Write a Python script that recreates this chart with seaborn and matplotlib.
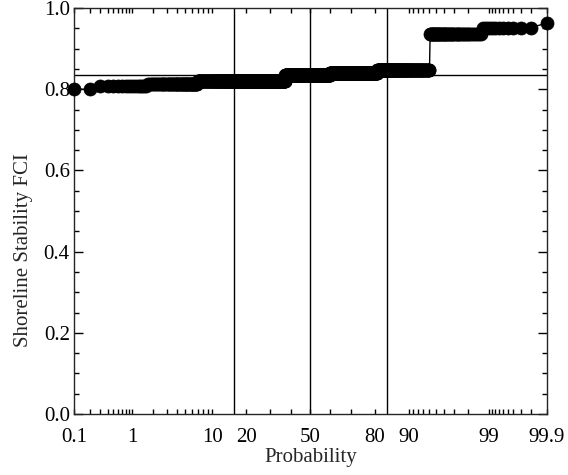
import numpy as np
import pandas as pd
import matplotlib.pyplot as plt
import seaborn as sns
from matplotlib.ticker import MultipleLocator
from statistics import NormalDist

# FCI values: step levels and how many sorted samples sit on each
fci_levels = [0.800, 0.807, 0.8125, 0.820, 0.835, 0.840, 0.847, 0.935, 0.952, 0.963]
level_counts = [2, 14, 53, 301, 230, 208, 132, 47, 11, 1]
mean_fci = 0.835
sigma_probs = [15.87, 50.0, 84.13]  # mean and +/- 1 sigma

major_probs = [0.1, 1, 10, 20, 50, 80, 90, 99, 99.9]
major_labels = ['0.1', '1', '10', '20', '50', '80', '90', '99', '99.9']
minor_probs = [0.2, 0.3, 0.4, 0.5, 0.6, 0.7, 0.8, 0.9,
               2, 3, 4, 5, 6, 7, 8, 9, 30, 40, 60, 70,
               91, 92, 93, 94, 95, 96, 97, 98,
               99.1, 99.2, 99.3, 99.4, 99.5, 99.6, 99.7, 99.8]
y_ticks = [0.0, 0.2, 0.4, 0.6, 0.8, 1.0]
y_labels = ['0.0', '0.2', '0.4', '0.6', '0.8', '1.0']

# sorted sample + plotting positions
fci = np.repeat(fci_levels, level_counts)
n = len(fci)
prob = 100 * np.arange(1, n + 1) / (n + 1)
df = pd.DataFrame({'Probability': prob, 'FCI': fci})

# normal probability scale
_nd = NormalDist()


def to_z(p):
    p = np.clip(np.asarray(p, dtype=float), 1e-4, 100 - 1e-4) / 100
    return np.vectorize(_nd.inv_cdf, otypes=[float])(p)


def from_z(z):
    z = np.asarray(z, dtype=float)
    return 100 * np.vectorize(_nd.cdf, otypes=[float])(z)


sns.set_style('ticks')
plt.rcParams['font.family'] = ['Liberation Serif', 'DejaVu Serif']
plt.rcParams['font.size'] = 15
plt.rcParams['axes.linewidth'] = 1.0

fig, ax = plt.subplots(figsize=(5.68, 4.75), dpi=100)
fig.subplots_adjust(left=0.1303, right=0.963, bottom=0.1284, top=0.983)
ax.set_xscale('function', functions=(to_z, from_z))

sns.lineplot(data=df, x='Probability', y='FCI', ax=ax, color='black',
             marker='o', markersize=9.4, markeredgecolor='black',
             markeredgewidth=0.5, linewidth=1, estimator=None, sort=False,
             clip_on=False, zorder=3)

for p in sigma_probs:
    ax.axvline(p, color='black', lw=1.0, zorder=2)
ax.axhline(mean_fci, color='black', lw=1.0, zorder=2)

ax.set_xlim(0.1, 99.9)
ax.set_ylim(0, 1)
ax.set_xticks(major_probs)
ax.set_xticklabels(major_labels)
ax.set_xticks(minor_probs, minor=True)
ax.set_yticks(y_ticks)
ax.set_yticklabels(y_labels)
ax.yaxis.set_minor_locator(MultipleLocator(0.05))

ax.tick_params(which='both', direction='in', top=True, right=True,
               colors='black', width=1.0, labelsize=15)
ax.tick_params(axis='x', which='both', length=3.6, pad=10)
ax.tick_params(axis='y', which='major', length=6.5, pad=3)
ax.tick_params(axis='y', which='minor', length=3.6)

ax.set_xlabel('Probability', labelpad=1)
ax.set_ylabel('Shoreline Stability FCI')
ax.yaxis.set_label_coords(-0.087, 0.405)

plt.savefig('out.png', dpi=100)
